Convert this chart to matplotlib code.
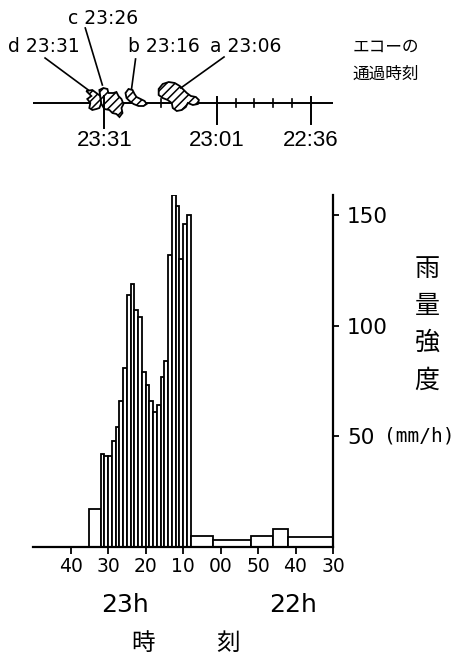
import numpy as np
import matplotlib
matplotlib.use('Agg')
import matplotlib.pyplot as plt
from matplotlib.patches import Polygon

plt.rcParams['font.family'] = ['DejaVu Sans', 'Noto Sans CJK JP']
plt.rcParams['hatch.linewidth'] = 1.1

def to_min(hhmm):
    # minutes after 22:00
    h, m = hhmm.split(':')
    return (int(h) - 22) * 60 + int(m)

# rain intensity (mm/h)
lead_start, lead_len, lead_rain = '23:35', 3, 17
minute_start = '23:32'
minute_rain = [42, 41, 41, 48, 54, 66, 81, 114, 119, 107, 104, 79,
               73, 66, 61, 64, 77, 84, 132, 159, 154, 130, 146, 150]
tail_start = ['23:08', '23:02', '22:52', '22:46', '22:42']
tail_len = [6, 10, 6, 4, 12]
tail_rain = [4.8, 3.0, 5.0, 8.0, 4.6]

x_ticks = ['23:40', '23:30', '23:20', '23:10', '23:00', '22:50', '22:40', '22:30']
x_tick_labels = ['40', '30', '20', '10', '00', '50', '40', '30']
y_ticks = [50, 100, 150]

# echo passage diagram
big_ticks = ['23:31', '23:01', '22:36']
small_ticks = ['23:16', '22:56', '22:51', '22:46', '22:41']
echo_names = ['d 23:31', 'c 23:26', 'b 23:16', 'a 23:06']

# --- bars ---
starts, lens, rain = [to_min(lead_start)], [lead_len], [lead_rain]
t0 = to_min(minute_start)
for i, r in enumerate(minute_rain):
    starts.append(t0 - i)
    lens.append(1)
    rain.append(r)
for s, l, r in zip(tail_start, tail_len, tail_rain):
    starts.append(to_min(s))
    lens.append(l)
    rain.append(r)
starts = np.array(starts, float)
lens = np.array(lens, float)
centers = starts - lens / 2

W, H = 465, 656
fig = plt.figure(figsize=(W / 100, H / 100), dpi=100)

ax = fig.add_axes([33 / W, 109 / H, 300 / W, 352 / H])
ax.bar(centers, rain, width=lens, color='white', edgecolor='black', linewidth=1.3)
ax.set_xlim(110, 30)
ax.set_ylim(0, 159)
for s in ['left', 'top']:
    ax.spines[s].set_visible(False)
ax.spines['bottom'].set_linewidth(1.6)
ax.spines['right'].set_linewidth(1.6)
ax.set_xticks([to_min(t) for t in x_ticks])
ax.set_xticklabels(x_tick_labels, fontsize=13.5)
ax.tick_params(axis='x', direction='out', length=5, width=1.3, pad=2)
ax.yaxis.tick_right()
ax.set_yticks(y_ticks)
ax.set_yticklabels([str(v) for v in y_ticks], fontsize=15.5)
ax.tick_params(axis='y', direction='out', length=4, width=1.3, pad=6)

fig.text(125 / W, 1 - 605 / H, '23h', fontsize=18, ha='center', va='center')
fig.text(293 / W, 1 - 605 / H, '22h', fontsize=18, ha='center', va='center')
fig.text(143 / W, 1 - 643 / H, '時', fontsize=17, ha='center', va='center', family='Noto Sans CJK JP')
fig.text(228 / W, 1 - 643 / H, '刻', fontsize=17, ha='center', va='center', family='Noto Sans CJK JP')
for ch, yy in zip('雨量強度', [269, 306, 343, 381]):
    fig.text(427 / W, 1 - yy / H, ch, fontsize=18, ha='center', va='center', family='Noto Sans CJK JP')
fig.text(384 / W, 1 - 436 / H, '(mm/h)', fontsize=14, ha='left', va='center', family='DejaVu Sans Mono')

# --- top diagram: rows in pixels, x in minutes ---
at = fig.add_axes([33 / W, 1 - 160 / H, 300 / W, 160 / H])
at.set_xlim(110, 30)
at.set_ylim(160, 0)
at.axis('off')

def px(x):
    return 110 - (x - 33) / 3.73

at.plot([110, 30], [103, 103], color='black', lw=1.4, zorder=1)
for t in small_ticks:
    at.plot([to_min(t)] * 2, [99, 107], color='black', lw=1.2, zorder=1)

blobs = [
    [(86, 91), (92, 90), (96, 93), (100, 96), (101, 103), (99, 108), (96, 109),
     (92, 110), (89, 108), (90, 103), (87, 99), (91, 96)],
    [(99, 90), (103, 88), (107, 89), (108, 93), (113, 93), (116, 92), (118, 96),
     (121, 99), (123, 104), (121, 108), (122, 113), (119, 117), (116, 114),
     (112, 113), (109, 110), (104, 109), (101, 104), (100, 97)],
    [(125, 93), (128, 89), (132, 90), (134, 94), (136, 97), (140, 99), (144, 101),
     (146, 104), (143, 106), (138, 106), (133, 104), (129, 101), (126, 98)],
    [(158, 89), (162, 84), (168, 82), (174, 83), (179, 86), (182, 89), (186, 93),
     (190, 96), (195, 97), (198, 100), (197, 104), (192, 105), (187, 103),
     (185, 107), (181, 110), (176, 111), (172, 108), (171, 103), (167, 100),
     (162, 98), (158, 95)],
]
for b in blobs:
    pts = [(px(x), y) for x, y in b]
    at.add_patch(Polygon(pts, closed=True, facecolor='white', edgecolor='black',
                         lw=1.3, hatch='////', zorder=2))

for t, y1 in zip(big_ticks, [96, 97, 97]):
    at.plot([to_min(t)] * 2, [y1, 128 if t == '23:31' else 124], color='black', lw=1.4, zorder=3)
    at.text(to_min(t), 141, t, fontsize=16, ha='center', va='center',
            family='Liberation Sans')

label_pos = [(44, 47), (103, 19), (163, 47), (245, 47)]
leaders = [((45, 58), (88, 90)), ((85, 28), (102, 85)),
           ((135, 59), (131, 89)), ((223, 57), (180, 88))]
for name, (lx, ly), (p0, p1) in zip(echo_names, label_pos, leaders):
    at.text(px(lx), ly, name, fontsize=13.5, ha='center', va='center')
    at.plot([px(p0[0]), px(p1[0])], [p0[1], p1[1]], color='black', lw=1.2, zorder=3)

fig.text(353 / W, 1 - 47 / H, 'エコーの', fontsize=12, ha='left', va='center', family='Noto Sans CJK JP')
fig.text(353 / W, 1 - 74 / H, '通過時刻', fontsize=12, ha='left', va='center', family='Noto Sans CJK JP')

fig.savefig('out.png', dpi=100)
